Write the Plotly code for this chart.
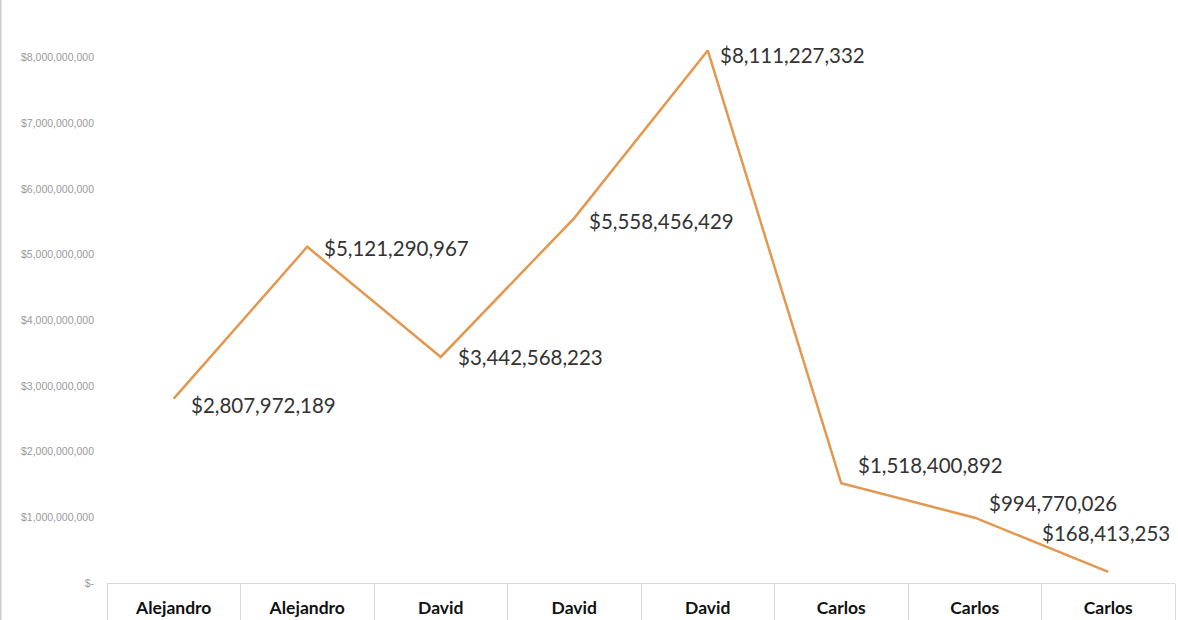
import plotly.graph_objects as go

categories = ["Alejandro", "Alejandro", "David", "David", "David", "Carlos", "Carlos", "Carlos"]
values = [2807972189, 5121290967, 3442568223, 5558456429, 8111227332, 1518400892, 994770026, 168413253]
ytick_vals = [0, 1e9, 2e9, 3e9, 4e9, 5e9, 6e9, 7e9, 8e9, 9e9]
ytick_text = ["$-", "$1,000,000,000", "$2,000,000,000", "$3,000,000,000", "$4,000,000,000",
              "$5,000,000,000", "$6,000,000,000", "$7,000,000,000", "$8,000,000,000", "$9,000,000,000"]

# label placement (pixels) : style only
label_anchor = ["left", "left", "left", "left", "left", "left", "left", "right"]
label_dx = [15, 15, 15, 13, 10, 15, 12, 64]
label_dy = [-6, -1, 0, -3, -5, 18, 15, 39]

xs = list(range(len(values)))

fig = go.Figure()
fig.add_trace(go.Scatter(x=xs, y=values, mode="lines",
                         line=dict(color="#E3974F", width=2.5), hoverinfo="skip"))

for i, v in enumerate(values):
    fig.add_annotation(x=xs[i], y=v, text="${:,}".format(v), showarrow=False,
                       xanchor=label_anchor[i], yanchor="middle", xshift=label_dx[i], yshift=label_dy[i],
                       font=dict(family="Lato", size=20.5, color="#333333"))

fig.update_layout(
    width=1178, height=620,
    margin=dict(l=107, r=3, t=0, b=37),
    paper_bgcolor="white", plot_bgcolor="white",
    showlegend=False,
    xaxis=dict(range=[-0.5, len(values) - 0.5], tickmode="array", tickvals=xs, ticktext=categories,
               showgrid=False, zeroline=False, showline=True, linecolor="#d9d9d9", linewidth=1,
               ticks="", ticklabelstandoff=9,
               tickfont=dict(family="Lato", size=17.5, color="#111111", weight="bold"),
               minor=dict(tickmode="array", tickvals=[x - 0.5 for x in xs] + [len(values) - 0.5],
                          ticks="outside", ticklen=40, tickcolor="#d9d9d9", tickwidth=1)),
    yaxis=dict(range=[0, 8.88e9], tickmode="array", tickvals=ytick_vals, ticktext=ytick_text,
               showgrid=False, zeroline=False, showline=False, ticks="",
               ticklabelstandoff=12,
               tickfont=dict(family="Liberation Sans Narrow, Liberation Sans", size=10.5, color="#9a9a9a")),
)

fig.add_shape(type="line", xref="paper", yref="paper", x0=-107/1068, x1=-107/1068, y0=-0.07, y1=1.0,
              line=dict(color="#cccccc", width=3))

fig.write_html("out.html")
